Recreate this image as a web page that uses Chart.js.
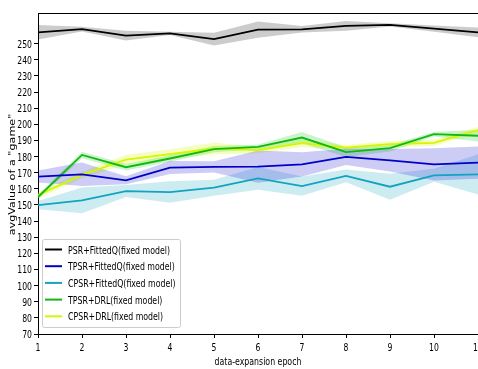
<!DOCTYPE html>
<html>
<head>
<meta charset="utf-8">
<script src="https://cdn.jsdelivr.net/npm/chart.js@4.4.1/dist/chart.umd.min.js"></script>
<style>
  html, body { margin: 0; padding: 0; background: #fff; }
  #wrap { width: 478px; height: 369px; overflow: hidden; }
</style>
</head>
<body>
<div id="wrap"><canvas id="chart" width="478" height="369"></canvas></div>
<script>
// epochs on the x axis
const epochs = [1, 2, 3, 4, 5, 6, 7, 8, 9, 10, 11];
const yTicks = [70, 80, 90, 100, 110, 120, 130, 140, 150, 160, 170, 180, 190, 200, 210, 220, 230, 240, 250];

// mean values per series
const psrFitted  = [257, 259, 255, 256.4, 252.8, 258.7, 258.9, 261, 261.6, 259.3, 257];
const tpsrFitted = [167.6, 169, 165.3, 173.2, 173.6, 173.8, 175.2, 179.8, 177.7, 175.2, 176.3];
const cpsrFitted = [149.9, 152.8, 158.6, 158, 160.7, 166.5, 161.7, 168, 161.3, 168.4, 169];
const tpsrDrl    = [154.9, 181, 173.4, 178.8, 184.6, 186, 191.8, 182.7, 185.2, 193.9, 192.9];
const cpsrDrl    = [156, 168.6, 178.1, 181.5, 185, 184, 188.3, 185.6, 187.7, 188.5, 196.4];

// half width of the shaded bands
const psrFittedSpread  = [4.5, 1.5, 3, 1, 4, 5, 2, 3, 1, 2, 3];
const tpsrFittedSpread = [3.7, 7.3, 2.5, 4, 3.5, 10, 7.5, 5, 7, 10, 10];
const cpsrFittedSpread = [2.5, 8, 3.7, 6.7, 5, 7, 6, 4, 8, 4, 12.5];
const tpsrDrlSpread    = [1.5, 2, 2, 2, 2, 1.5, 3.5, 3, 2, 1.5, 3.5];
const cpsrDrlSpread    = [2, 2, 3, 3, 3.7, 2, 2.5, 1.5, 2, 2, 2];

const xTitle = 'data-expansion epoch';
const yTitle = 'avgValue of a "game"';

// the text in the picture is squeezed sideways
const FONT = "'DejaVu Sans', sans-serif";
const SX = 0.7;
const TEXT = '#000';

const series = [
  { label: 'PSR+FittedQ(fixed model)',  data: psrFitted,  spread: psrFittedSpread,  color: '#000000', band: 'rgba(0,0,0,0.2)' },
  { label: 'TPSR+FittedQ(fixed model)', data: tpsrFitted, spread: tpsrFittedSpread, color: '#0000c8', band: 'rgba(0,0,205,0.2)' },
  { label: 'CPSR+FittedQ(fixed model)', data: cpsrFitted, spread: cpsrFittedSpread, color: '#12a3bf', band: 'rgba(0,160,190,0.2)' },
  { label: 'TPSR+DRL(fixed model)',     data: tpsrDrl,    spread: tpsrDrlSpread,    color: '#10b810', band: 'rgba(0,200,0,0.2)' },
  { label: 'CPSR+DRL(fixed model)',     data: cpsrDrl,    spread: cpsrDrlSpread,    color: '#d6f500', band: 'rgba(210,255,0,0.25)' },
];

const pts = arr => arr.map((v, i) => ({ x: epochs[i], y: v }));

const datasets = [];
series.forEach(s => {
  datasets.push({
    data: pts(s.data),
    label: s.label,
    borderColor: s.color,
    borderWidth: 1.8,
    pointRadius: 0,
    fill: false,
    tension: 0,
    order: 0,
    isLine: true,
  });
});
series.forEach(s => {
  // upper edge fills down to the next dataset (lower edge)
  datasets.push({
    data: pts(s.data.map((v, i) => v + s.spread[i])),
    borderWidth: 0,
    pointRadius: 0,
    backgroundColor: s.band,
    fill: '+1',
    order: 1,
  });
  datasets.push({
    data: pts(s.data.map((v, i) => v - s.spread[i])),
    borderWidth: 0,
    pointRadius: 0,
    fill: false,
    order: 1,
  });
});

function squeezedText(ctx, text, x, y, align, size, rotate) {
  ctx.save();
  ctx.translate(x, y);
  ctx.scale(SX, 1);
  if (rotate) ctx.rotate(-Math.PI / 2);
  ctx.font = size + 'px ' + FONT;
  ctx.textAlign = align;
  ctx.textBaseline = 'alphabetic';
  ctx.fillStyle = TEXT;
  ctx.fillText(text, 0, 0);
  ctx.restore();
}

// tick labels, axis titles, legend and top spine
const decorations = {
  id: 'decorations',
  afterDraw(chart) {
    const ctx = chart.ctx;
    const a = chart.chartArea;
    const xs = chart.scales.x, ys = chart.scales.y;

    xs.ticks.forEach(t => {
      squeezedText(ctx, String(t.value), xs.getPixelForValue(t.value), a.bottom + 16.5, 'center', 11);
    });
    ys.ticks.forEach(t => {
      squeezedText(ctx, String(t.value), a.left - 6, ys.getPixelForValue(t.value) + 4, 'right', 11);
    });
    squeezedText(ctx, xTitle, (a.left + a.right) / 2, 365, 'center', 11.2);
    squeezedText(ctx, yTitle, 15, (a.top + a.bottom) / 2 + 1, 'center', 11.2, true);

    // legend box inside the plot, bottom left
    const lines = chart.data.datasets.filter(d => d.isLine);
    ctx.save();
    ctx.fillStyle = 'rgba(255,255,255,0.85)';
    ctx.strokeStyle = '#cccccc';
    ctx.lineWidth = 1;
    ctx.beginPath();
    ctx.roundRect(42.5, 239.5, 138, 88, 2);
    ctx.fill();
    ctx.stroke();
    lines.forEach((d, i) => {
      const y = 249.5 + i * 16.7;
      ctx.strokeStyle = d.borderColor;
      ctx.lineWidth = 2;
      ctx.beginPath();
      ctx.moveTo(45, y);
      ctx.lineTo(62, y);
      ctx.stroke();
      squeezedText(ctx, d.label, 68, y + 4, 'left', 11.2);
    });

    ctx.strokeStyle = '#000';
    ctx.lineWidth = 1;
    ctx.beginPath();
    ctx.moveTo(a.left, a.top + 0.5);
    ctx.lineTo(a.right, a.top + 0.5);
    ctx.stroke();
    ctx.restore();
  }
};

new Chart(document.getElementById('chart'), {
  type: 'line',
  data: { datasets },
  options: {
    responsive: false,
    devicePixelRatio: 1,
    animation: false,
    layout: { padding: { top: 13, left: 0, right: 0, bottom: 0 } },
    plugins: {
      legend: { display: false },
      tooltip: { enabled: false },
    },
    scales: {
      x: {
        type: 'linear',
        min: 1,
        max: 11,
        grid: { drawOnChartArea: false, drawTicks: true, tickLength: 4, color: '#000' },
        border: { color: '#000', width: 1 },
        ticks: { stepSize: 1, color: 'rgba(0,0,0,0)', padding: 2, font: { family: FONT, size: 10 }, maxRotation: 0 },
        afterFit(scale) { scale.height = 35; scale.paddingRight = 0; scale.paddingLeft = 0; },
      },
      y: {
        min: 70,
        max: 269,
        grid: { drawOnChartArea: false, drawTicks: true, tickLength: 4, color: '#000' },
        border: { color: '#000', width: 1 },
        ticks: { color: 'rgba(0,0,0,0)', padding: 2, font: { family: FONT, size: 10 } },
        afterBuildTicks(scale) { scale.ticks = yTicks.map(v => ({ value: v })); },
        afterFit(scale) { scale.width = 38; },
      },
    },
  },
  plugins: [decorations],
});
</script>
</body>
</html>
